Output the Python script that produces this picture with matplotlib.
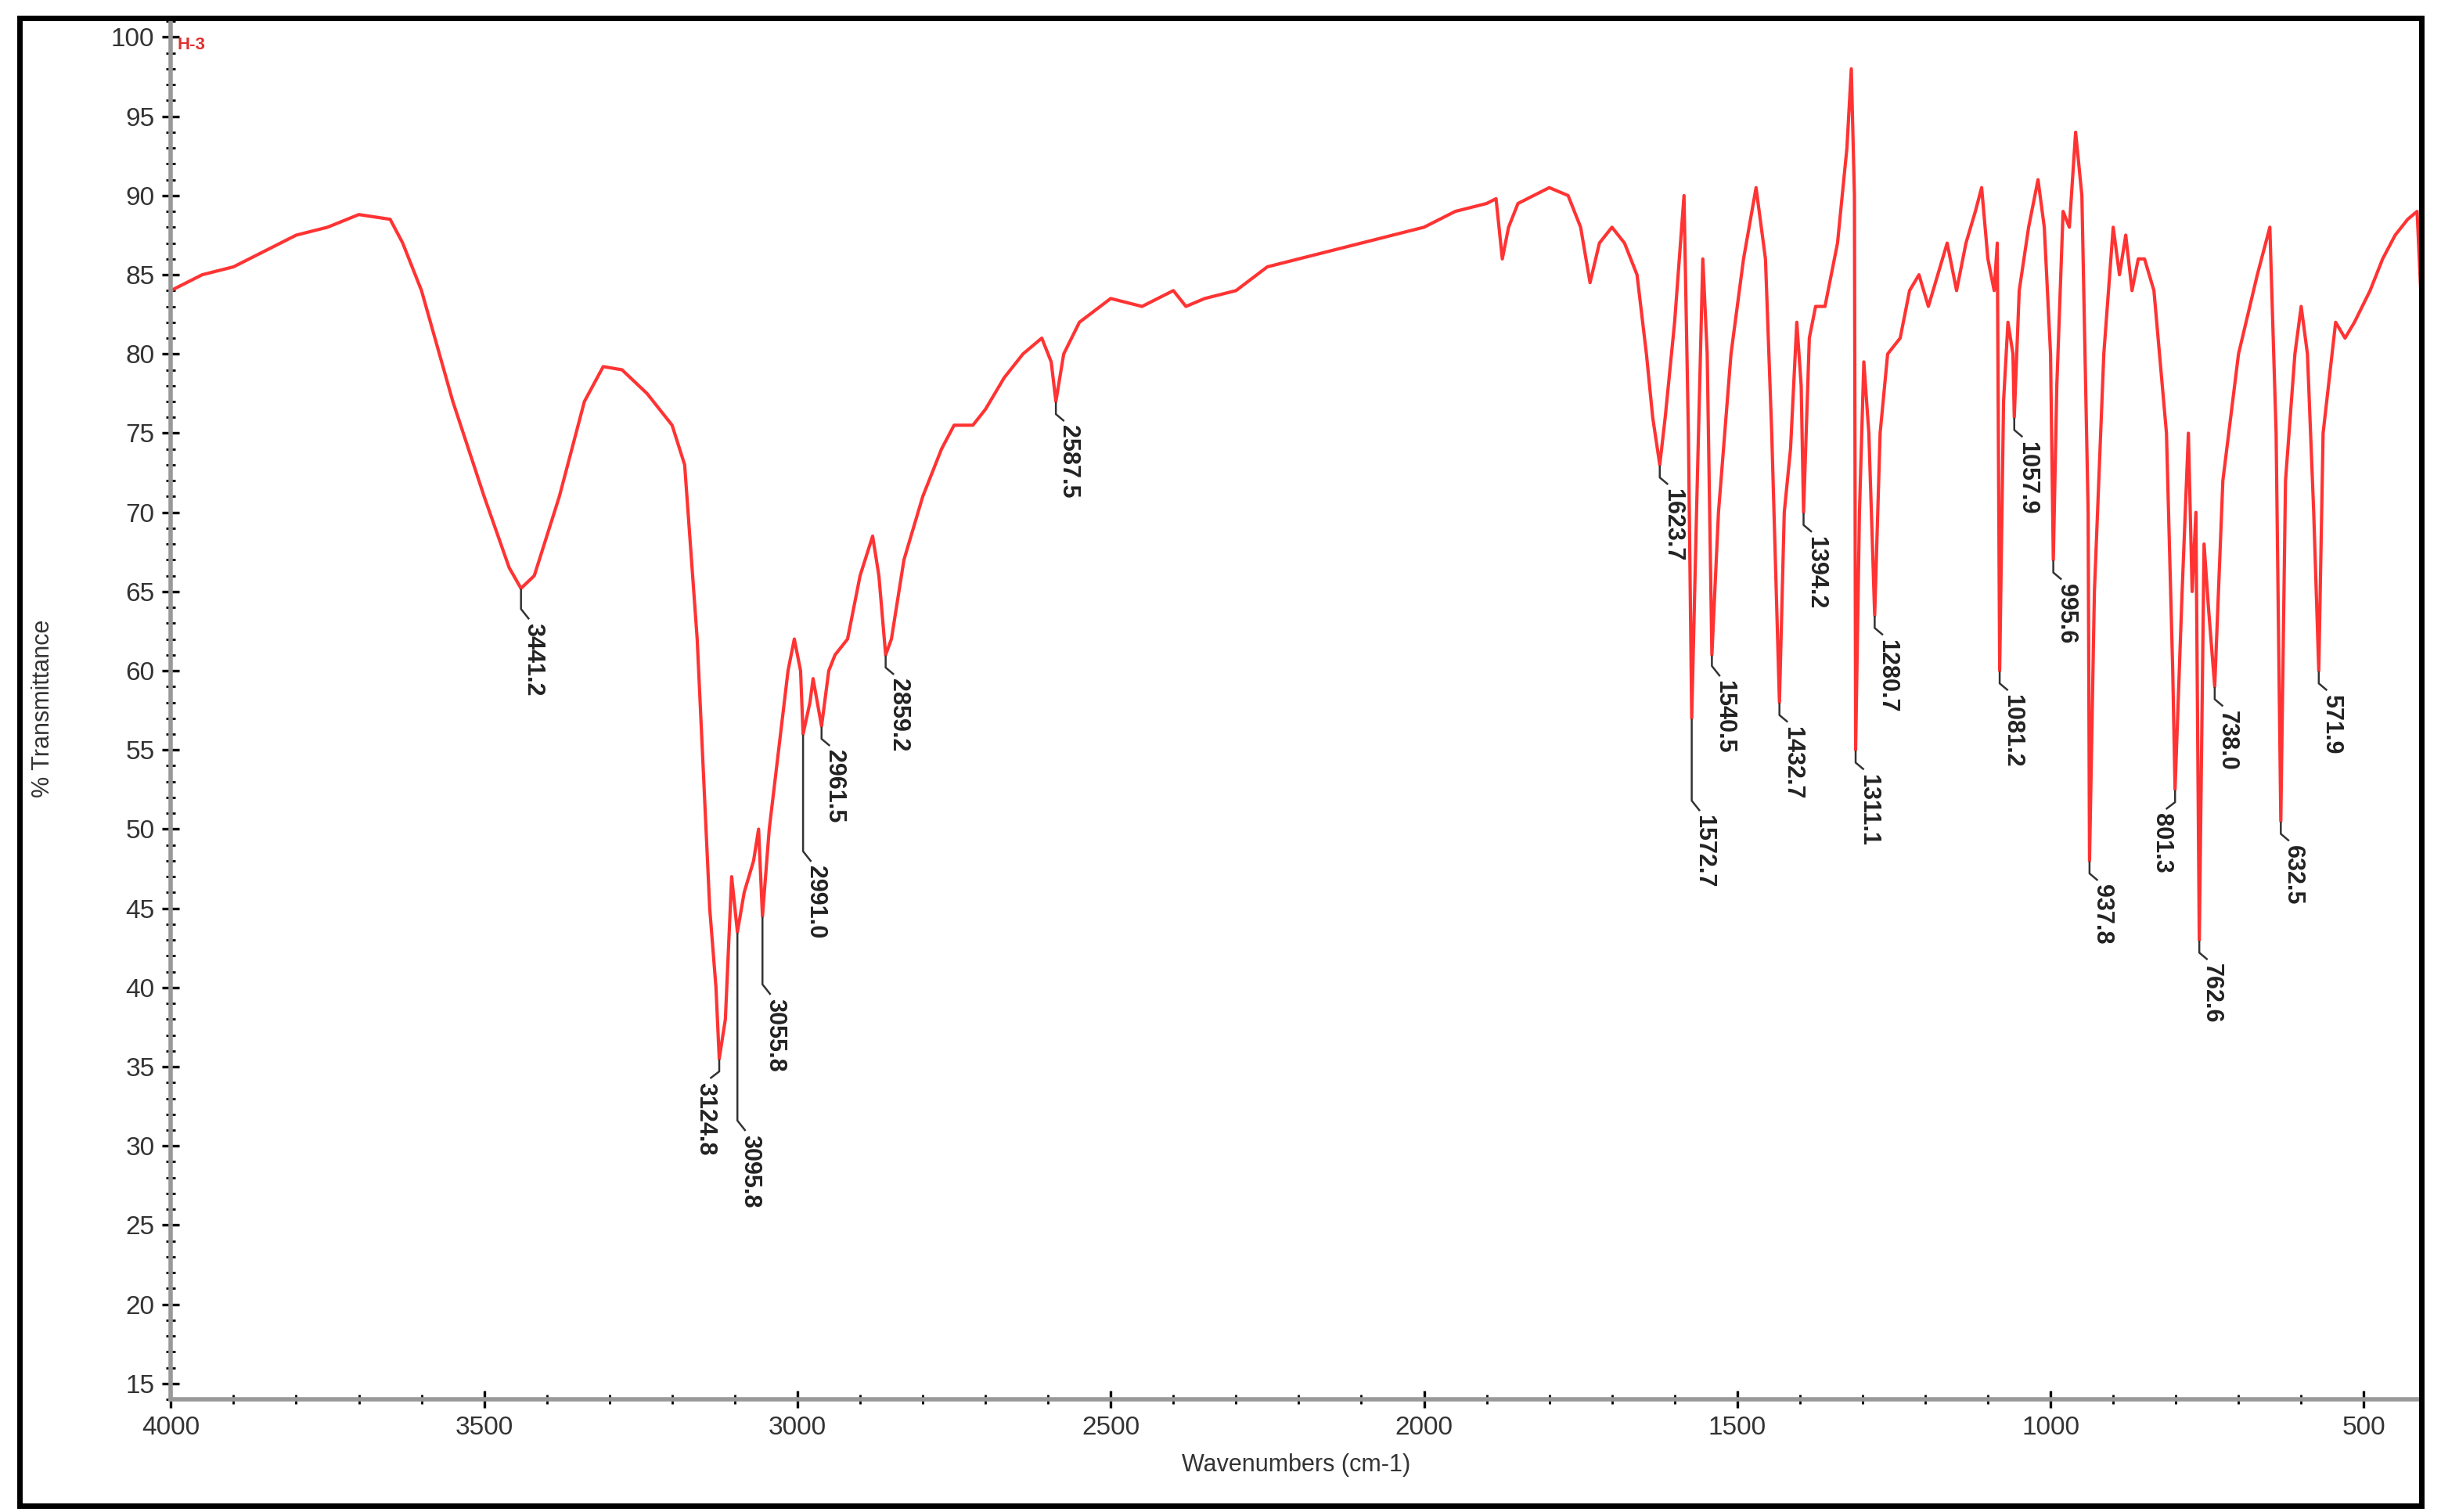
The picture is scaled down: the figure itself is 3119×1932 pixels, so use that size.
import matplotlib
matplotlib.use("Agg")
import matplotlib.pyplot as plt
from matplotlib.ticker import MultipleLocator
from matplotlib.patches import Rectangle

plt.rcParams['font.family'] = ['Liberation Sans', 'DejaVu Sans']

wavenumbers = [4000,3950,3900,3850,3800,3750,3700,3650,3630,3600,3550,3500,3460,3441.2,3420,3380,3340,3310,3280,3240,3200,3180,3160,3140,3130,3124.8,3115,3105,3095.8,3085,3070,3062,3055.8,3045,3030,3015,3005,2995,2991,2980,2975,2961.5,2950,2940,2920,2900,2880,2870,2859.2,2850,2830,2800,2770,2750,2720,2700,2670,2640,2610,2595,2587.5,2575,2550,2500,2450,2400,2380,2350,2300,2250,2200,2150,2100,2050,2000,1950,1900,1885,1875,1865,1850,1800,1770,1750,1735,1720,1700,1680,1660,1645,1635,1623.7,1615,1600,1585,1578,1572.7,1565,1555,1548,1540.5,1530,1510,1490,1470,1455,1445,1432.7,1425,1415,1405,1398,1394.2,1385,1375,1360,1340,1325,1318,1313,1311.1,1305,1298,1290,1280.7,1272,1260,1240,1225,1210,1195,1180,1165,1150,1135,1120,1110,1100,1090,1085,1081.2,1075,1068,1060,1057.9,1050,1035,1020,1010,1000,995.6,990,980,970,960,950,940,937.8,930,915,900,890,880,870,860,850,835,815,805,801.3,790,780,774,768,762.6,755,748,738,725,700,670,650,640,632.5,625,610,600,590,580,571.9,565,545,530,515,490,470,450,430,415,408]
transmittance = [84,85,85.5,86.5,87.5,88,88.8,88.5,87,84,77,71,66.5,65.2,66,71,77,79.2,79,77.5,75.5,73,62,45,40,35.5,38,47,43.5,46,48,50,44.5,50,55,60,62,60,56,58,59.5,56.5,60,61,62,66,68.5,66,61,62,67,71,74,75.5,75.5,76.5,78.5,80,81,79.5,77,80,82,83.5,83,84,83,83.5,84,85.5,86,86.5,87,87.5,88,89,89.5,89.8,86,88,89.5,90.5,90,88,84.5,87,88,87,85,80,76,73,76,82,90,75,57,70,86,80,61,70,80,86,90.5,86,75,58,70,74,82,78,70,81,83,83,87,93,98,90,55,70,79.5,75,63.5,75,80,81,84,85,83,85,87,84,87,89,90.5,86,84,87,60,77,82,80,76,84,88,91,88,80,67,78,89,88,94,90,70,48,65,80,88,85,87.5,84,86,86,84,75,60,52.5,65,75,65,70,43,68,64,59,72,80,85,88,75,50.5,72,80,83,80,70,60,75,82,81,82,84,86,87.5,88.5,89,83]

peak_wn = [3441.2,3124.8,3095.8,3055.8,2991.0,2961.5,2859.2,2587.5,1623.7,1572.7,1540.5,1432.7,1394.2,1311.1,1280.7,1081.2,1057.9,995.6,937.8,801.3,762.6,738.0,632.5,571.9]
peak_t = [65.2,35.5,43.5,44.5,56,56.5,61,77,73,57,61,58,70,55,63.5,60,76,67,48,52.5,43,59,50.5,60]
label_t = [63.3,34.8,31,39.6,48,56.4,61,76.9,73.2,51.2,59.7,58,70,54.5,63.8,60,76.9,67.6,47.5,52.5,42.4,59.5,50.8,59.8]
peak_labels = ["3441.2","3124.8","3095.8","3055.8","2991.0","2961.5","2859.2","2587.5","1623.7","1572.7","1540.5","1432.7","1394.2","1311.1","1280.7","1081.2","1057.9","995.6","937.8","801.3","762.6","738.0","632.5","571.9"]

fig = plt.figure(figsize=(15.595, 9.66), dpi=200)
fig.patches.append(Rectangle((0.008, 0.004), 0.984, 0.984, transform=fig.transFigure,
                             fill=False, edgecolor='black', linewidth=2.5, zorder=10))
ax = fig.add_axes([0.070, 0.0745, 0.922, 0.9135])
ax.plot(wavenumbers, transmittance, color='#ff3333', linewidth=1.5)
ax.set_xlim(4000, 408)
ax.set_ylim(14, 101.2)

for wn, pt, lt, lab in zip(peak_wn, peak_t, label_t, peak_labels):
    off = 22 if lab in ("801.3", "3124.8") else -20
    if pt - lt > 1.0:
        ax.plot([wn, wn, wn + off * 0.6], [pt - 0.1, lt + 0.6, lt], color='#333333', linewidth=0.9)
    else:
        ax.plot([wn, wn, wn + off * 0.6], [pt - 0.1, pt - 0.8, pt - 1.2], color='#333333', linewidth=0.9)
        lt = pt - 1.2
    ax.text(wn + off, lt - 0.3, lab, rotation=270, ha='center', va='top',
            fontsize=11, fontweight='bold', color='#222222')

ax.text(3990, 99.5, "H-3", color='#e03030', fontsize=8, fontweight='bold', va='center')

ax.xaxis.set_major_locator(MultipleLocator(500))
ax.xaxis.set_minor_locator(MultipleLocator(100))
ax.yaxis.set_minor_locator(MultipleLocator(1))
ax.set_yticks(range(15, 101, 5))
ax.tick_params(axis='both', which='major', direction='inout', length=8, width=1.2,
               labelsize=12, labelcolor='#333333')
ax.tick_params(axis='both', which='minor', direction='inout', length=4, width=1.0)
for s in ['top', 'right']:
    ax.spines[s].set_visible(False)
for s in ['left', 'bottom']:
    ax.spines[s].set_color('#999999')
    ax.spines[s].set_linewidth(2)
ax.set_xlabel("Wavenumbers (cm-1)", fontsize=11, color='#333333', labelpad=6)
ax.set_ylabel("% Transmittance", fontsize=11, color='#333333', labelpad=26)

fig.savefig("out.png", dpi=200)
